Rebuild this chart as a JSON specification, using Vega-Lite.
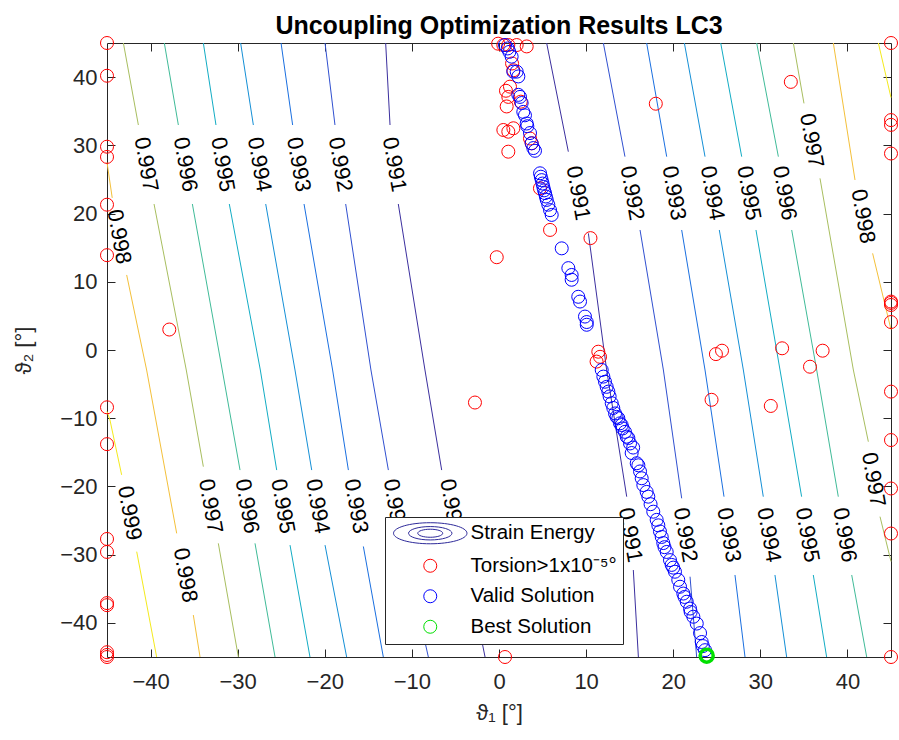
{
  "$schema": "https://vega.github.io/schema/vega-lite/v6.json",
  "width": 784,
  "height": 614,
  "autosize": {"type": "none"},
  "padding": {"left": 107, "top": 43, "right": 8, "bottom": 83},
  "background": "white",
  "title": {"text": "Uncoupling Optimization Results LC3", "font": "Liberation Sans", "fontSize": 25, "fontWeight": "bold", "color": "#000000", "anchor": "middle", "offset": -4},
  "config": {
    "view": {"stroke": null},
    "font": "Liberation Sans",
    "axis": {
      "grid": false,
      "labelFont": "Liberation Sans",
      "labelFontSize": 22,
      "labelColor": "#262626",
      "tickColor": "#262626",
      "domainColor": "#262626",
      "tickSize": -8,
      "tickWidth": 1,
      "domainWidth": 1,
      "titleFont": "Liberation Sans",
      "titleFontSize": 22,
      "titleFontWeight": "normal",
      "titleColor": "#262626"
    },
    "axisX": {"labelPadding": 22, "titlePadding": 10},
    "axisY": {"labelPadding": 18, "titlePadding": 24}
  },
  "datasets": {
    "contours": [
      {"level": "0.999", "seg": "L999a", "t1": -45, "t2": -9.0},
      {"level": "0.999", "seg": "L999a", "t1": -44.66, "t2": -10.26},
      {"level": "0.999", "seg": "L999a", "t1": -43.32, "t2": -18.3},
      {"level": "0.999", "seg": "L999b", "t1": -41.59, "t2": -29.56},
      {"level": "0.999", "seg": "L999b", "t1": -39.3, "t2": -45},
      {"level": "0.998", "seg": "L998a", "t1": -45, "t2": 27.5},
      {"level": "0.998", "seg": "L998a", "t1": -44.4, "t2": 22.3},
      {"level": "0.998", "seg": "L998b", "t1": -42.74, "t2": 11.0},
      {"level": "0.998", "seg": "L998b", "t1": -40.45, "t2": -2.93},
      {"level": "0.998", "seg": "L998b", "t1": -37.0, "t2": -26.88},
      {"level": "0.998", "seg": "L998c", "t1": -35.09, "t2": -38.85},
      {"level": "0.998", "seg": "L998c", "t1": -34.32, "t2": -45},
      {"level": "0.997", "seg": "L997a", "t1": -43.12, "t2": 45},
      {"level": "0.997", "seg": "L997a", "t1": -41.4, "t2": 32.98},
      {"level": "0.997", "seg": "L997b", "t1": -39.6, "t2": 21.4},
      {"level": "0.997", "seg": "L997b", "t1": -35.9, "t2": -2.93},
      {"level": "0.997", "seg": "L997b", "t1": -33.94, "t2": -17.1},
      {"level": "0.997", "seg": "L997c", "t1": -32.22, "t2": -28.34},
      {"level": "0.997", "seg": "L997c", "t1": -29.92, "t2": -45},
      {"level": "0.996", "seg": "L996a", "t1": -38.42, "t2": 45},
      {"level": "0.996", "seg": "L996a", "t1": -36.81, "t2": 32.98},
      {"level": "0.996", "seg": "L996b", "t1": -35.2, "t2": 21.4},
      {"level": "0.996", "seg": "L996b", "t1": -31.77, "t2": -2.93},
      {"level": "0.996", "seg": "L996b", "t1": -29.73, "t2": -17.6},
      {"level": "0.996", "seg": "L996c", "t1": -28.01, "t2": -28.34},
      {"level": "0.996", "seg": "L996c", "t1": -25.71, "t2": -45},
      {"level": "0.995", "seg": "L995a", "t1": -33.94, "t2": 45},
      {"level": "0.995", "seg": "L995a", "t1": -32.49, "t2": 32.98},
      {"level": "0.995", "seg": "L995b", "t1": -30.96, "t2": 21.4},
      {"level": "0.995", "seg": "L995b", "t1": -27.4, "t2": -2.93},
      {"level": "0.995", "seg": "L995b", "t1": -25.52, "t2": -17.6},
      {"level": "0.995", "seg": "L995c", "t1": -23.99, "t2": -28.6},
      {"level": "0.995", "seg": "L995c", "t1": -21.7, "t2": -45},
      {"level": "0.994", "seg": "L994a", "t1": -29.66, "t2": 45},
      {"level": "0.994", "seg": "L994a", "t1": -28.2, "t2": 32.98},
      {"level": "0.994", "seg": "L994b", "t1": -26.78, "t2": 21.4},
      {"level": "0.994", "seg": "L994b", "t1": -23.42, "t2": -2.93},
      {"level": "0.994", "seg": "L994b", "t1": -21.5, "t2": -17.6},
      {"level": "0.994", "seg": "L994c", "t1": -19.97, "t2": -28.6},
      {"level": "0.994", "seg": "L994c", "t1": -17.49, "t2": -45},
      {"level": "0.993", "seg": "L993a", "t1": -25.02, "t2": 45},
      {"level": "0.993", "seg": "L993a", "t1": -23.69, "t2": 32.98},
      {"level": "0.993", "seg": "L993b", "t1": -22.38, "t2": 21.4},
      {"level": "0.993", "seg": "L993b", "t1": -19.1, "t2": -2.93},
      {"level": "0.993", "seg": "L993b", "t1": -17.29, "t2": -17.6},
      {"level": "0.993", "seg": "L993c", "t1": -15.57, "t2": -28.8},
      {"level": "0.993", "seg": "L993c", "t1": -13.28, "t2": -45},
      {"level": "0.992", "seg": "L992a", "t1": -19.97, "t2": 45},
      {"level": "0.992", "seg": "L992a", "t1": -18.83, "t2": 32.98},
      {"level": "0.992", "seg": "L992b", "t1": -17.6, "t2": 21.4},
      {"level": "0.992", "seg": "L992b", "t1": -14.7, "t2": -2.93},
      {"level": "0.992", "seg": "L992b", "t1": -12.7, "t2": -17.6},
      {"level": "0.992", "seg": "L992c", "t1": -11.0, "t2": -28.5},
      {"level": "0.992", "seg": "L992c", "t1": -8.11, "t2": -45},
      {"level": "0.991", "seg": "L991a", "t1": -13.01, "t2": 45},
      {"level": "0.991", "seg": "L991a", "t1": -12.51, "t2": 32.98},
      {"level": "0.991", "seg": "L991b", "t1": -11.56, "t2": 21.4},
      {"level": "0.991", "seg": "L991b", "t1": -8.5, "t2": -2.93},
      {"level": "0.991", "seg": "L991b", "t1": -6.58, "t2": -17.6},
      {"level": "0.991", "seg": "L991c", "t1": -4.2, "t2": -28.5},
      {"level": "0.991", "seg": "L991c", "t1": -1.6, "t2": -45},
      {"level": "0.991", "seg": "R991a", "t1": 5.47, "t2": 45},
      {"level": "0.991", "seg": "R991a", "t1": 7.96, "t2": 29.07},
      {"level": "0.991", "seg": "R991b", "t1": 10.26, "t2": 17.1},
      {"level": "0.991", "seg": "R991b", "t1": 12.36, "t2": -2.93},
      {"level": "0.991", "seg": "R991b", "t1": 14.66, "t2": -21.5},
      {"level": "0.991", "seg": "R991c", "t1": 15.42, "t2": -32.25},
      {"level": "0.991", "seg": "R991c", "t1": 16.0, "t2": -45},
      {"level": "0.992", "seg": "R992a", "t1": 11.98, "t2": 45},
      {"level": "0.992", "seg": "R992a", "t1": 14.46, "t2": 28.34},
      {"level": "0.992", "seg": "R992b", "t1": 16.19, "t2": 17.59},
      {"level": "0.992", "seg": "R992b", "t1": 18.87, "t2": -2.93},
      {"level": "0.992", "seg": "R992b", "t1": 20.97, "t2": -21.74},
      {"level": "0.992", "seg": "R992c", "t1": 21.93, "t2": -33.23},
      {"level": "0.992", "seg": "R992c", "t1": 22.69, "t2": -45},
      {"level": "0.993", "seg": "R993a", "t1": 16.95, "t2": 45},
      {"level": "0.993", "seg": "R993a", "t1": 19.25, "t2": 28.34},
      {"level": "0.993", "seg": "R993b", "t1": 20.97, "t2": 17.59},
      {"level": "0.993", "seg": "R993b", "t1": 23.65, "t2": -2.93},
      {"level": "0.993", "seg": "R993b", "t1": 25.83, "t2": -21.5},
      {"level": "0.993", "seg": "R993c", "t1": 27.09, "t2": -32.98},
      {"level": "0.993", "seg": "R993c", "t1": 28.24, "t2": -45},
      {"level": "0.994", "seg": "R994a", "t1": 21.28, "t2": 45},
      {"level": "0.994", "seg": "R994a", "t1": 23.65, "t2": 28.34},
      {"level": "0.994", "seg": "R994b", "t1": 25.29, "t2": 17.59},
      {"level": "0.994", "seg": "R994b", "t1": 28.05, "t2": -2.93},
      {"level": "0.994", "seg": "R994b", "t1": 30.34, "t2": -21.5},
      {"level": "0.994", "seg": "R994c", "t1": 31.68, "t2": -32.98},
      {"level": "0.994", "seg": "R994c", "t1": 33.02, "t2": -45},
      {"level": "0.995", "seg": "R995a", "t1": 25.45, "t2": 45},
      {"level": "0.995", "seg": "R995a", "t1": 27.86, "t2": 28.34},
      {"level": "0.995", "seg": "R995b", "t1": 29.5, "t2": 17.59},
      {"level": "0.995", "seg": "R995b", "t1": 32.26, "t2": -2.93},
      {"level": "0.995", "seg": "R995b", "t1": 34.74, "t2": -21.5},
      {"level": "0.995", "seg": "R995c", "t1": 36.08, "t2": -32.98},
      {"level": "0.995", "seg": "R995c", "t1": 37.61, "t2": -45},
      {"level": "0.996", "seg": "R996a", "t1": 29.58, "t2": 45},
      {"level": "0.996", "seg": "R996a", "t1": 32.07, "t2": 28.34},
      {"level": "0.996", "seg": "R996b", "t1": 33.6, "t2": 17.59},
      {"level": "0.996", "seg": "R996b", "t1": 36.47, "t2": -2.93},
      {"level": "0.996", "seg": "R996b", "t1": 38.95, "t2": -21.5},
      {"level": "0.996", "seg": "R996c", "t1": 40.49, "t2": -32.98},
      {"level": "0.996", "seg": "R996c", "t1": 42.21, "t2": -45},
      {"level": "0.997", "seg": "R997a", "t1": 33.79, "t2": 45},
      {"level": "0.997", "seg": "R997a", "t1": 35.01, "t2": 36.15},
      {"level": "0.997", "seg": "R997b", "t1": 36.85, "t2": 25.16},
      {"level": "0.997", "seg": "R997b", "t1": 40.68, "t2": -2.93},
      {"level": "0.997", "seg": "R997b", "t1": 42.4, "t2": -13.44},
      {"level": "0.997", "seg": "R997c", "t1": 43.74, "t2": -24.43},
      {"level": "0.997", "seg": "R997c", "t1": 45, "t2": -31},
      {"level": "0.998", "seg": "R998a", "t1": 38.38, "t2": 45},
      {"level": "0.998", "seg": "R998a", "t1": 40.87, "t2": 24.92},
      {"level": "0.998", "seg": "R998b", "t1": 42.89, "t2": 14.17},
      {"level": "0.998", "seg": "R998b", "t1": 45, "t2": 3},
      {"level": "0.999", "seg": "R999a", "t1": 43.55, "t2": 45},
      {"level": "0.999", "seg": "R999a", "t1": 45, "t2": 37}
    ],
    "labels": [
      {"level": "0.997", "t1": -40.5, "t2": 27.2},
      {"level": "0.996", "t1": -36.0, "t2": 27.2},
      {"level": "0.995", "t1": -31.7, "t2": 27.2},
      {"level": "0.994", "t1": -27.5, "t2": 27.2},
      {"level": "0.993", "t1": -23.0, "t2": 27.2},
      {"level": "0.992", "t1": -18.2, "t2": 27.2},
      {"level": "0.991", "t1": -12.0, "t2": 27.2},
      {"level": "0.998", "t1": -43.6, "t2": 16.6},
      {"level": "0.999", "t1": -42.4, "t2": -23.9},
      {"level": "0.998", "t1": -36.0, "t2": -33.0},
      {"level": "0.997", "t1": -33.1, "t2": -22.9},
      {"level": "0.996", "t1": -28.9, "t2": -22.9},
      {"level": "0.995", "t1": -24.8, "t2": -22.9},
      {"level": "0.994", "t1": -20.8, "t2": -22.9},
      {"level": "0.993", "t1": -16.4, "t2": -22.9},
      {"level": "0.992", "t1": -11.9, "t2": -22.9},
      {"level": "0.991", "t1": -5.4, "t2": -22.9},
      {"level": "0.991", "t1": 9.1, "t2": 23.0},
      {"level": "0.992", "t1": 15.3, "t2": 23.0},
      {"level": "0.993", "t1": 20.1, "t2": 23.0},
      {"level": "0.994", "t1": 24.5, "t2": 23.0},
      {"level": "0.995", "t1": 28.7, "t2": 23.0},
      {"level": "0.996", "t1": 32.8, "t2": 23.0},
      {"level": "0.997", "t1": 35.9, "t2": 30.7},
      {"level": "0.998", "t1": 41.8, "t2": 19.6},
      {"level": "0.991", "t1": 15.1, "t2": -27.1},
      {"level": "0.992", "t1": 21.4, "t2": -27.1},
      {"level": "0.993", "t1": 26.4, "t2": -27.1},
      {"level": "0.994", "t1": 31.0, "t2": -27.1},
      {"level": "0.995", "t1": 35.4, "t2": -27.1},
      {"level": "0.996", "t1": 39.7, "t2": -27.1},
      {"level": "0.997", "t1": 43.0, "t2": -19.0}
    ],
    "pts": [
      {"series": "Torsion>1x10⁻⁵°", "t1": -45, "t2": 45},
      {"series": "Torsion>1x10⁻⁵°", "t1": -45, "t2": 40.2},
      {"series": "Torsion>1x10⁻⁵°", "t1": -45, "t2": 29.8},
      {"series": "Torsion>1x10⁻⁵°", "t1": -45, "t2": 28.3},
      {"series": "Torsion>1x10⁻⁵°", "t1": -45, "t2": 21.3},
      {"series": "Torsion>1x10⁻⁵°", "t1": -45, "t2": 13.9},
      {"series": "Torsion>1x10⁻⁵°", "t1": -45, "t2": -8.4},
      {"series": "Torsion>1x10⁻⁵°", "t1": -45, "t2": -13.8},
      {"series": "Torsion>1x10⁻⁵°", "t1": -45, "t2": -27.7},
      {"series": "Torsion>1x10⁻⁵°", "t1": -45, "t2": -29.6},
      {"series": "Torsion>1x10⁻⁵°", "t1": -45, "t2": -37.1},
      {"series": "Torsion>1x10⁻⁵°", "t1": -45, "t2": -37.4},
      {"series": "Torsion>1x10⁻⁵°", "t1": -45, "t2": -44.3},
      {"series": "Torsion>1x10⁻⁵°", "t1": -45, "t2": -45},
      {"series": "Torsion>1x10⁻⁵°", "t1": -45, "t2": -44.7},
      {"series": "Torsion>1x10⁻⁵°", "t1": 45, "t2": 45},
      {"series": "Torsion>1x10⁻⁵°", "t1": 45, "t2": 33.7},
      {"series": "Torsion>1x10⁻⁵°", "t1": 45, "t2": 33.0},
      {"series": "Torsion>1x10⁻⁵°", "t1": 45, "t2": 28.8},
      {"series": "Torsion>1x10⁻⁵°", "t1": 45, "t2": 7.1},
      {"series": "Torsion>1x10⁻⁵°", "t1": 45, "t2": 6.6},
      {"series": "Torsion>1x10⁻⁵°", "t1": 45, "t2": 6.9},
      {"series": "Torsion>1x10⁻⁵°", "t1": 45, "t2": 4.1},
      {"series": "Torsion>1x10⁻⁵°", "t1": 45, "t2": -6.1},
      {"series": "Torsion>1x10⁻⁵°", "t1": 45, "t2": -13.2},
      {"series": "Torsion>1x10⁻⁵°", "t1": 45, "t2": -20.3},
      {"series": "Torsion>1x10⁻⁵°", "t1": 45, "t2": -26.9},
      {"series": "Torsion>1x10⁻⁵°", "t1": 45, "t2": -45},
      {"series": "Torsion>1x10⁻⁵°", "t1": -37.85, "t2": 3.0},
      {"series": "Torsion>1x10⁻⁵°", "t1": -2.76, "t2": -7.7},
      {"series": "Torsion>1x10⁻⁵°", "t1": 0.69, "t2": -45},
      {"series": "Torsion>1x10⁻⁵°", "t1": -0.26, "t2": 13.6},
      {"series": "Torsion>1x10⁻⁵°", "t1": 18.0, "t2": 36.1},
      {"series": "Torsion>1x10⁻⁵°", "t1": 33.5, "t2": 39.3},
      {"series": "Torsion>1x10⁻⁵°", "t1": 10.5, "t2": 16.4},
      {"series": "Torsion>1x10⁻⁵°", "t1": 24.9, "t2": -0.6},
      {"series": "Torsion>1x10⁻⁵°", "t1": 25.6, "t2": -0.1},
      {"series": "Torsion>1x10⁻⁵°", "t1": 32.5, "t2": 0.25},
      {"series": "Torsion>1x10⁻⁵°", "t1": 37.15, "t2": -0.1},
      {"series": "Torsion>1x10⁻⁵°", "t1": 35.7, "t2": -2.45},
      {"series": "Torsion>1x10⁻⁵°", "t1": 24.4, "t2": -7.3},
      {"series": "Torsion>1x10⁻⁵°", "t1": 31.2, "t2": -8.2},
      {"series": "Torsion>1x10⁻⁵°", "t1": -0.1, "t2": 44.9},
      {"series": "Torsion>1x10⁻⁵°", "t1": 0.5, "t2": 44.7},
      {"series": "Torsion>1x10⁻⁵°", "t1": 1.07, "t2": 44.7},
      {"series": "Torsion>1x10⁻⁵°", "t1": 2.03, "t2": 44.7},
      {"series": "Torsion>1x10⁻⁵°", "t1": 3.18, "t2": 44.5},
      {"series": "Torsion>1x10⁻⁵°", "t1": 1.65, "t2": 41.0},
      {"series": "Torsion>1x10⁻⁵°", "t1": 1.5, "t2": 42.0},
      {"series": "Torsion>1x10⁻⁵°", "t1": 1.26, "t2": 38.6},
      {"series": "Torsion>1x10⁻⁵°", "t1": 0.8, "t2": 38.0},
      {"series": "Torsion>1x10⁻⁵°", "t1": 1.07, "t2": 37.1},
      {"series": "Torsion>1x10⁻⁵°", "t1": 0.88, "t2": 35.7},
      {"series": "Torsion>1x10⁻⁵°", "t1": 2.5, "t2": 36.4},
      {"series": "Torsion>1x10⁻⁵°", "t1": 0.5, "t2": 32.25},
      {"series": "Torsion>1x10⁻⁵°", "t1": 1.07, "t2": 32.0},
      {"series": "Torsion>1x10⁻⁵°", "t1": 1.65, "t2": 32.5},
      {"series": "Torsion>1x10⁻⁵°", "t1": 3.56, "t2": 31.0},
      {"series": "Torsion>1x10⁻⁵°", "t1": 3.75, "t2": 30.3},
      {"series": "Torsion>1x10⁻⁵°", "t1": 1.07, "t2": 29.07},
      {"series": "Torsion>1x10⁻⁵°", "t1": 4.7, "t2": 23.7},
      {"series": "Torsion>1x10⁻⁵°", "t1": 5.86, "t2": 17.6},
      {"series": "Torsion>1x10⁻⁵°", "t1": 11.4, "t2": -0.25},
      {"series": "Torsion>1x10⁻⁵°", "t1": 11.6, "t2": -1.0},
      {"series": "Torsion>1x10⁻⁵°", "t1": 11.2, "t2": -1.7},
      {"series": "Valid Solution", "t1": 0.69, "t2": 44.7},
      {"series": "Valid Solution", "t1": 1.0, "t2": 44.2},
      {"series": "Valid Solution", "t1": 1.19, "t2": 43.7},
      {"series": "Valid Solution", "t1": 1.45, "t2": 43.0},
      {"series": "Valid Solution", "t1": 1.64, "t2": 40.8},
      {"series": "Valid Solution", "t1": 2.03, "t2": 40.8},
      {"series": "Valid Solution", "t1": 2.22, "t2": 40.1},
      {"series": "Valid Solution", "t1": 2.22, "t2": 37.4},
      {"series": "Valid Solution", "t1": 2.41, "t2": 37.1},
      {"series": "Valid Solution", "t1": 2.6, "t2": 36.2},
      {"series": "Valid Solution", "t1": 2.79, "t2": 34.9},
      {"series": "Valid Solution", "t1": 2.98, "t2": 34.4},
      {"series": "Valid Solution", "t1": 3.18, "t2": 33.2},
      {"series": "Valid Solution", "t1": 3.25, "t2": 32.8},
      {"series": "Valid Solution", "t1": 3.56, "t2": 31.8},
      {"series": "Valid Solution", "t1": 3.75, "t2": 30.3},
      {"series": "Valid Solution", "t1": 3.94, "t2": 29.6},
      {"series": "Valid Solution", "t1": 4.13, "t2": 29.2},
      {"series": "Valid Solution", "t1": 4.71, "t2": 25.9},
      {"series": "Valid Solution", "t1": 4.8, "t2": 25.4},
      {"series": "Valid Solution", "t1": 4.9, "t2": 24.9},
      {"series": "Valid Solution", "t1": 5.0, "t2": 24.4},
      {"series": "Valid Solution", "t1": 5.09, "t2": 23.9},
      {"series": "Valid Solution", "t1": 5.18, "t2": 23.4},
      {"series": "Valid Solution", "t1": 5.28, "t2": 23.0},
      {"series": "Valid Solution", "t1": 5.38, "t2": 22.5},
      {"series": "Valid Solution", "t1": 5.48, "t2": 22.0},
      {"series": "Valid Solution", "t1": 5.66, "t2": 21.3},
      {"series": "Valid Solution", "t1": 5.86, "t2": 20.5},
      {"series": "Valid Solution", "t1": 6.05, "t2": 19.8},
      {"series": "Valid Solution", "t1": 7.2, "t2": 14.9},
      {"series": "Valid Solution", "t1": 7.96, "t2": 12.0},
      {"series": "Valid Solution", "t1": 8.34, "t2": 11.0},
      {"series": "Valid Solution", "t1": 8.34, "t2": 10.3},
      {"series": "Valid Solution", "t1": 9.1, "t2": 7.8},
      {"series": "Valid Solution", "t1": 9.3, "t2": 7.1},
      {"series": "Valid Solution", "t1": 9.87, "t2": 4.9},
      {"series": "Valid Solution", "t1": 10.07, "t2": 4.1},
      {"series": "Valid Solution", "t1": 10.07, "t2": 3.7},
      {"series": "Valid Solution", "t1": 11.79, "t2": -2.93},
      {"series": "Valid Solution", "t1": 11.98, "t2": -3.9},
      {"series": "Valid Solution", "t1": 12.17, "t2": -4.65},
      {"series": "Valid Solution", "t1": 12.36, "t2": -5.4},
      {"series": "Valid Solution", "t1": 12.55, "t2": -6.1},
      {"series": "Valid Solution", "t1": 12.7, "t2": -6.8},
      {"series": "Valid Solution", "t1": 12.94, "t2": -7.8},
      {"series": "Valid Solution", "t1": 13.12, "t2": -8.5},
      {"series": "Valid Solution", "t1": 13.32, "t2": -9.3},
      {"series": "Valid Solution", "t1": 13.5, "t2": -9.8},
      {"series": "Valid Solution", "t1": 13.7, "t2": -10.0},
      {"series": "Valid Solution", "t1": 13.89, "t2": -10.75},
      {"series": "Valid Solution", "t1": 14.08, "t2": -11.0},
      {"series": "Valid Solution", "t1": 14.2, "t2": -11.5},
      {"series": "Valid Solution", "t1": 14.46, "t2": -12.0},
      {"series": "Valid Solution", "t1": 14.66, "t2": -12.7},
      {"series": "Valid Solution", "t1": 14.85, "t2": -12.9},
      {"series": "Valid Solution", "t1": 15.04, "t2": -13.7},
      {"series": "Valid Solution", "t1": 15.4, "t2": -14.3},
      {"series": "Valid Solution", "t1": 15.23, "t2": -15.1},
      {"series": "Valid Solution", "t1": 15.81, "t2": -16.6},
      {"series": "Valid Solution", "t1": 16.0, "t2": -16.9},
      {"series": "Valid Solution", "t1": 16.19, "t2": -17.8},
      {"series": "Valid Solution", "t1": 16.38, "t2": -18.8},
      {"series": "Valid Solution", "t1": 16.57, "t2": -19.8},
      {"series": "Valid Solution", "t1": 16.95, "t2": -20.8},
      {"series": "Valid Solution", "t1": 17.14, "t2": -21.5},
      {"series": "Valid Solution", "t1": 17.4, "t2": -22.6},
      {"series": "Valid Solution", "t1": 17.71, "t2": -23.7},
      {"series": "Valid Solution", "t1": 18.1, "t2": -24.9},
      {"series": "Valid Solution", "t1": 18.29, "t2": -25.7},
      {"series": "Valid Solution", "t1": 18.48, "t2": -26.6},
      {"series": "Valid Solution", "t1": 18.68, "t2": -27.4},
      {"series": "Valid Solution", "t1": 18.86, "t2": -28.3},
      {"series": "Valid Solution", "t1": 19.0, "t2": -28.9},
      {"series": "Valid Solution", "t1": 19.25, "t2": -29.6},
      {"series": "Valid Solution", "t1": 19.63, "t2": -30.8},
      {"series": "Valid Solution", "t1": 19.82, "t2": -31.5},
      {"series": "Valid Solution", "t1": 20.0, "t2": -31.9},
      {"series": "Valid Solution", "t1": 20.2, "t2": -32.5},
      {"series": "Valid Solution", "t1": 20.58, "t2": -33.7},
      {"series": "Valid Solution", "t1": 20.78, "t2": -34.7},
      {"series": "Valid Solution", "t1": 21.16, "t2": -35.7},
      {"series": "Valid Solution", "t1": 21.3, "t2": -36.2},
      {"series": "Valid Solution", "t1": 21.55, "t2": -36.9},
      {"series": "Valid Solution", "t1": 21.93, "t2": -37.9},
      {"series": "Valid Solution", "t1": 22.0, "t2": -38.4},
      {"series": "Valid Solution", "t1": 22.31, "t2": -39.1},
      {"series": "Valid Solution", "t1": 22.7, "t2": -40.1},
      {"series": "Valid Solution", "t1": 23.08, "t2": -41.5},
      {"series": "Valid Solution", "t1": 23.27, "t2": -42.8},
      {"series": "Valid Solution", "t1": 23.4, "t2": -43.4},
      {"series": "Valid Solution", "t1": 23.65, "t2": -44.0},
      {"series": "Best Solution", "t1": 23.84, "t2": -44.8}
    ]
  },
  "resolve": {"axis": {"x": "independent", "y": "independent"}},
  "layer": [
    {
      "data": {"name": "contours"},
      "mark": {"type": "line", "strokeWidth": 1},
      "encoding": {
        "x": {"field": "t1", "type": "quantitative", "scale": {"domain": [-45, 45], "nice": false, "zero": false},
              "axis": {"orient": "bottom", "title": "ϑ₁ [°]", "values": [-40, -30, -20, -10, 0, 10, 20, 30, 40]}},
        "y": {"field": "t2", "type": "quantitative", "scale": {"domain": [-45, 45], "nice": false, "zero": false},
              "axis": {"orient": "left", "title": "ϑ₂ [°]", "values": [-40, -30, -20, -10, 0, 10, 20, 30, 40]}},
        "stroke": {"field": "level", "type": "nominal",
                   "scale": {"domain": ["0.991", "0.992", "0.993", "0.994", "0.995", "0.996", "0.997", "0.998", "0.999"],
                             "range": ["#3b2f9e", "#3050d0", "#1a6fe0", "#148fd6", "#12acc4", "#40bb98", "#a8be5f", "#f4c03a", "#f4ea1c"]},
                   "legend": null},
        "detail": {"field": "seg", "type": "nominal"},
        "order": {"field": "t2", "type": "quantitative", "sort": "descending"}
      }
    },
    {
      "data": {"name": "labels"},
      "mark": {"type": "text", "angle": 80, "fontSize": 22, "font": "Liberation Sans", "color": "#000000", "align": "center", "baseline": "middle"},
      "encoding": {
        "x": {"field": "t1", "type": "quantitative", "axis": null},
        "y": {"field": "t2", "type": "quantitative", "axis": null},
        "text": {"field": "level", "type": "nominal"}
      }
    },
    {
      "data": {"name": "pts"},
      "transform": [{"filter": "datum.series != 'Best Solution'"}],
      "mark": {"type": "point", "filled": false, "size": 169, "strokeWidth": 1, "opacity": 1},
      "encoding": {
        "x": {"field": "t1", "type": "quantitative",
              "axis": {"orient": "top", "labels": false, "title": null, "values": [-40, -30, -20, -10, 0, 10, 20, 30, 40]}},
        "y": {"field": "t2", "type": "quantitative",
              "axis": {"orient": "right", "labels": false, "title": null, "values": [-40, -30, -20, -10, 0, 10, 20, 30, 40]}},
        "color": {"field": "series", "type": "nominal",
                  "scale": {"domain": ["Strain Energy", "Torsion>1x10⁻⁵°", "Valid Solution", "Best Solution"],
                            "range": ["#2e2a9a", "#ff0000", "#0000ff", "#00e000"]},
                  "legend": {"title": null, "orient": "none", "legendX": 278, "legendY": 474,
                             "fillColor": "white", "strokeColor": "#262626", "padding": 6,
                             "labelFont": "Liberation Sans", "labelFontSize": 20.5, "labelColor": "#000000",
                             "symbolSize": 169, "symbolStrokeWidth": 1, "symbolOffset": 29, "labelOffset": 30,
                             "rowPadding": 9.5, "labelLimit": 400}},
        "shape": {"field": "series", "type": "nominal",
                  "scale": {"domain": ["Strain Energy", "Torsion>1x10⁻⁵°", "Valid Solution", "Best Solution"],
                            "range": ["M-5.65,0A5.65,1.62,0,1,1,5.65,0A5.65,1.62,0,1,1,-5.65,0Z M-3.34,0A3.34,1.03,0,1,1,3.34,0A3.34,1.03,0,1,1,-3.34,0Z M-1.92,0A1.92,0.62,0,1,1,1.92,0A1.92,0.62,0,1,1,-1.92,0Z", "circle", "circle", "circle"]},
                  "legend": {"title": null}}
      }
    },
    {
      "data": {"name": "pts"},
      "transform": [{"filter": "datum.series == 'Best Solution'"}],
      "mark": {"type": "point", "filled": false, "size": 169, "strokeWidth": 3.5, "opacity": 1},
      "encoding": {
        "x": {"field": "t1", "type": "quantitative", "axis": null},
        "y": {"field": "t2", "type": "quantitative", "axis": null},
        "color": {"field": "series", "type": "nominal"},
        "shape": {"field": "series", "type": "nominal"}
      }
    }
  ]
}
